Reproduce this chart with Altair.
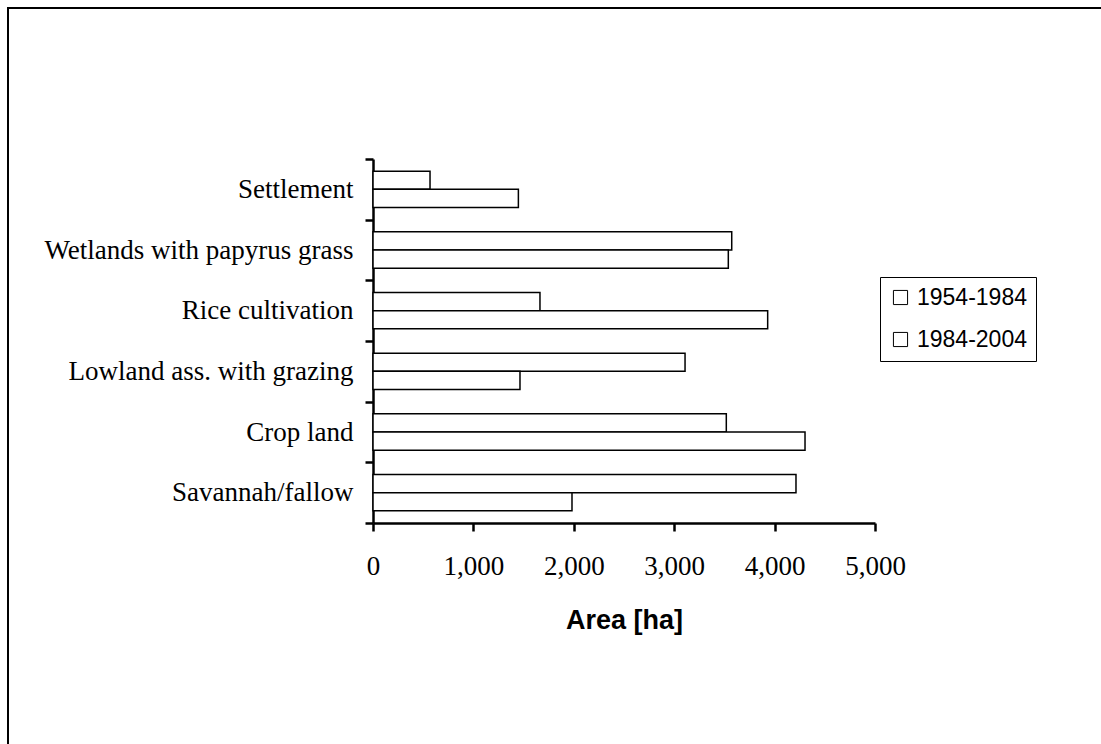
import altair as alt
import pandas as pd

categories = ["Settlement", "Wetlands with papyrus grass", "Rice cultivation",
              "Lowland ass. with grazing", "Crop land", "Savannah/fallow"]
periods = ["1954-1984", "1984-2004"]
values_1954_1984 = [568, 3573, 1663, 3108, 3519, 4213]
values_1984_2004 = [1448, 3539, 3931, 1464, 4303, 1982]
x_ticks = [0, 1000, 2000, 3000, 4000, 5000]

rows = []
for c, a, b in zip(categories, values_1954_1984, values_1984_2004):
    rows.append({"category": c, "period": periods[0], "area": a})
    rows.append({"category": c, "period": periods[1], "area": b})
df = pd.DataFrame(rows)

bars = alt.Chart(df).mark_bar(stroke="black", strokeWidth=1.5).encode(
    x=alt.X("area:Q",
            scale=alt.Scale(domain=[0, 5000], nice=False),
            axis=alt.Axis(values=x_ticks, format=",.0f", title="Area [ha]",
                          grid=False, domainColor="black", domainWidth=2.5,
                          tickColor="black", tickWidth=2.5, tickSize=8,
                          labelFont="Liberation Serif", labelFontSize=27,
                          labelColor="black", labelPadding=22, labelFlush=False,
                          titleFont="Liberation Sans", titleFontSize=27,
                          titleFontWeight="bold", titleColor="black",
                          titlePadding=28)),
    y=alt.Y("category:N", sort=categories,
            scale=alt.Scale(paddingInner=0, paddingOuter=0),
            axis=alt.Axis(title=None, tickBand="extent", grid=False,
                          domainColor="black", domainWidth=2.5,
                          tickColor="black", tickWidth=2.5, tickSize=8,
                          labelFont="Liberation Serif", labelFontSize=27,
                          labelColor="black", labelPadding=12, labelLimit=0)),
    yOffset=alt.YOffset("period:N", sort=periods,
                        scale=alt.Scale(paddingInner=0, paddingOuter=0.667)),
    fill=alt.Fill("period:N", sort=periods,
                  scale=alt.Scale(domain=periods, range=["white", "white"]),
                  legend=alt.Legend(title=None, orient="none", legendX=507, legendY=118,
                                    symbolType="square", symbolSize=200,
                                    symbolFillColor="white", symbolStrokeColor="black",
                                    symbolStrokeWidth=1, strokeColor="black",
                                    fillColor="white", padding=9, rowPadding=18,
                                    labelOffset=5, labelFont="Liberation Sans",
                                    labelFontSize=23, labelColor="black")),
)

frame = alt.Chart(alt.Data(values=[{"f": 1}])).mark_rect(
    fill=None, stroke="black", strokeWidth=2
).encode(
    x=alt.value(-365), x2=alt.value(760),
    y=alt.value(-151), y2=alt.value(620),
)

chart = alt.layer(frame, bars).properties(
    width=502, height=364,
    autosize=alt.AutoSizeParams(type="none"),
    padding={"left": 373, "top": 159, "right": 226, "bottom": 221},
    background="white",
).configure_view(stroke=None)

chart.save("out.html", embed_options={"renderer": "svg", "actions": False})
